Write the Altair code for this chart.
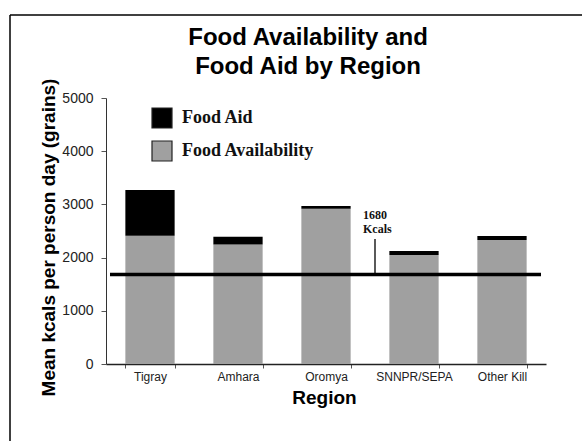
import altair as alt
import pandas as pd

# Mean kcals per person per day (grains), by region
regions = ["Tigray", "Amhara", "Oromya", "SNNPR/SEPA", "Other Kill"]
food_availability = [2410, 2245, 2920, 2050, 2330]
food_aid = [860, 145, 50, 75, 75]
series = ["Food Aid", "Food Availability"]
threshold = 1680
threshold_label = ["1680", "Kcals"]
title_lines = ["Food Availability and", "Food Aid by Region"]
y_ticks = list(range(0, 5001, 500))

rows = []
for r, avail, aid in zip(regions, food_availability, food_aid):
    rows.append({"Region": r, "Source": "Food Availability", "kcal": avail, "stack": 0})
    rows.append({"Region": r, "Source": "Food Aid", "kcal": aid, "stack": 1})
df = pd.DataFrame(rows)

SANS = "Liberation Sans"
SERIF = "Liberation Serif"

x_enc = alt.X(
    "Region:N",
    sort=regions,
    scale=alt.Scale(paddingInner=0.44, paddingOuter=0.22),
    axis=alt.Axis(
        title="Region",
        titleFont=SANS, titleFontSize=19, titleFontWeight="bold", titleColor="#000",
        titleX=218, titleY=39, titleBaseline="alphabetic", titleAlign="center",
        labelFont=SANS, labelFontSize=12, labelColor="#222", labelAngle=0,
        labelPadding=3, tickSize=4, tickBand="extent",
        domainColor="#222", domainWidth=1.4, tickColor="#555",
    ),
)

y_scale = alt.Scale(domain=[0, 5000], nice=False)

bars = alt.Chart(df).mark_bar().encode(
    x=x_enc,
    y=alt.Y(
        "kcal:Q",
        stack="zero",
        scale=y_scale,
        axis=alt.Axis(
            title="Mean kcals per person day (grains)",
            titleFont=SANS, titleFontSize=19, titleFontWeight="bold", titleColor="#000",
            titleAngle=270, titleX=-58, titleY=139,
            titleAlign="center", titleBaseline="middle",
            values=y_ticks,
            labelExpr="datum.value % 1000 === 0 ? datum.label : ''",
            labelFont=SANS, labelFontSize=14, labelColor="#222",
            labelPadding=8, tickSize=5, grid=False,
            domainColor="#333", tickColor="#555", format="d",
        ),
    ),
    color=alt.Color(
        "Source:N",
        scale=alt.Scale(domain=series, range=["#000000", "#a0a0a0"]),
        legend=alt.Legend(
            title=None, orient="none", legendX=45, legendY=9,
            symbolType="square", symbolSize=400,
            symbolStrokeColor="#222", symbolStrokeWidth=1.2,
            labelFont=SERIF, labelFontSize=18, labelFontWeight="bold",
            labelColor="#111", labelOffset=9, rowPadding=7,
        ),
    ),
    order=alt.Order("stack:Q", sort="ascending"),
)

# 1680 kcal reference line with its label and pointer
ref = pd.DataFrame({"y": [threshold]})
ref_line = alt.Chart(ref).mark_rule(color="#000", strokeWidth=3.5).encode(
    y=alt.Y("y:Q", scale=y_scale),
    x=alt.value(4), x2=alt.value(435),
)
pointer = alt.Chart(pd.DataFrame({"y": [threshold], "y2": [2350]})).mark_rule(
    color="#000", strokeWidth=1.3
).encode(
    y=alt.Y("y:Q", scale=y_scale), y2="y2:Q", x=alt.value(269),
)
label = alt.Chart(pd.DataFrame({"y": [2723]})).mark_text(
    text=threshold_label, font=SERIF, fontSize=12, fontWeight="bold",
    align="left", baseline="alphabetic", lineHeight=14, color="#111",
).encode(
    y=alt.Y("y:Q", scale=y_scale), x=alt.value(257),
)

# chart heading, two centred lines
heading = alt.Chart(ref).mark_text(
    text=title_lines, font=SANS, fontSize=24, fontWeight="bold", color="#000",
    align="center", baseline="alphabetic", lineHeight=29,
).encode(x=alt.value(202), y=alt.value(-53))

# page frame (top and left edges)
frame_top = alt.Chart(ref).mark_rule(color="#000", strokeWidth=1.5).encode(
    x=alt.value(-96), x2=alt.value(480), y=alt.value(-83),
)
frame_left = alt.Chart(ref).mark_rule(color="#000", strokeWidth=1.5).encode(
    x=alt.value(-96), y=alt.value(-83), y2=alt.value(350),
)

chart = alt.layer(
    bars, ref_line, pointer, label, heading, frame_top, frame_left
).properties(
    width=440,
    height=266,
    padding={"left": 106, "top": 98, "right": 36, "bottom": 77},
    autosize=alt.AutoSizeParams(type="none"),
).configure(background="white").configure_view(strokeWidth=0)

chart.save("out.html", embed_options={"renderer": "svg", "actions": False})
